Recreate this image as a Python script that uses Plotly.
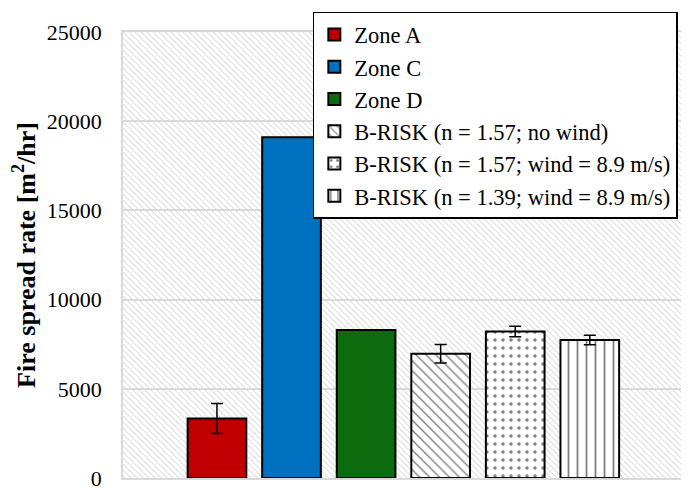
import base64
import plotly.graph_objects as go

# ---- data ----
series_names = [
    "Zone A",
    "Zone C",
    "Zone D",
    "B-RISK (n = 1.57; no wind)",
    "B-RISK (n = 1.57; wind = 8.9 m/s)",
    "B-RISK (n = 1.39; wind = 8.9 m/s)",
]
spread_rate = [3330, 19100, 8300, 6960, 8210, 7740]
spread_err = [840, None, None, 520, 290, 265]
y_ticks = [0, 5000, 10000, 15000, 20000, 25000]

# ---- styles ----
fills = ["#C00000", "#0070C0", "#0C6B0C", "white", "white", "white"]
patterns = ["", "", "", "\\", ".", "|"]
pat_size = [0, 0, 0, 7, 8, 9]
pat_solid = [0, 0, 0, 0.2, 0.15, 0.2]

FONT = "Liberation Serif, Times New Roman, serif"

fig = go.Figure()
for i, name in enumerate(series_names):
    err = spread_err[i]
    fig.add_trace(go.Bar(
        name=name,
        x=[i],
        y=[spread_rate[i]],
        width=0.787,
        legendgroup=name,
        marker=dict(
            color=fills[i],
            line=dict(color="black", width=2),
            pattern=dict(shape=patterns[i], fgcolor="black", bgcolor="white",
                         size=pat_size[i], solidity=pat_solid[i],
                         fillmode="overlay") if patterns[i] else None,
        ),
        error_y=dict(type="data", array=[err], color="black", thickness=1.5, width=6,
                     visible=err is not None),
    ))

# light diagonal hatch background of the plot area
W, H = 560, 446
svg = f'''<svg xmlns="http://www.w3.org/2000/svg" width="{W}" height="{H}">
<defs><pattern id="p" patternUnits="userSpaceOnUse" width="6" height="6">
<path d="M0,0 L6,6 M-1,5 L1,7 M5,-1 L7,1" stroke="#dedede" stroke-width="1.1"/>
</pattern></defs>
<rect width="{W}" height="{H}" fill="url(#p)"/></svg>'''
src = "data:image/svg+xml;base64," + base64.b64encode(svg.encode()).decode()

# the page body has an 8px margin, so the figure is drawn 8px smaller
fig.update_layout(
    width=681, height=482,
    margin=dict(l=115, r=6, t=24, b=12, autoexpand=False),
    paper_bgcolor="white",
    plot_bgcolor="white",
    barmode="overlay",
    showlegend=True,
    font=dict(family=FONT, color="black", size=22),
    legend=dict(
        x=0.339, y=1.045, xanchor="left", yanchor="top",
        bgcolor="white", bordercolor="black", borderwidth=1.5,
        font=dict(family=FONT, size=22.5, color="black"),
        traceorder="grouped", tracegroupgap=0,
        itemwidth=30,
    ),
    images=[dict(source=src, xref="paper", yref="paper", x=0, y=1,
                 sizex=1, sizey=1, sizing="stretch", layer="below",
                 xanchor="left", yanchor="top")],
    xaxis=dict(
        range=[-1.26, 6.25],
        showticklabels=False, showgrid=False, zeroline=False,
        showline=True, mirror=True, linecolor="#d9d9d9", linewidth=1.5,
        ticks="", automargin=False,
    ),
    yaxis=dict(
        range=[0, 25000],
        tickvals=y_ticks,
        ticktext=[str(v) for v in y_ticks],
        tickfont=dict(family=FONT, size=22, color="black"),
        showgrid=True, gridcolor="#d9d9d9", gridwidth=1.5,
        zeroline=False, automargin=False,
        showline=True, mirror=True, linecolor="#d9d9d9", linewidth=1.5,
        ticks="", ticklabelstandoff=15, ticklabeloverflow="allow",
        title=dict(text="<b>Fire spread rate [m<sup>2</sup>/hr]</b>",
                   font=dict(family=FONT, size=26, color="black"), standoff=6),
    ),
)

fig.write_html("out.html")
